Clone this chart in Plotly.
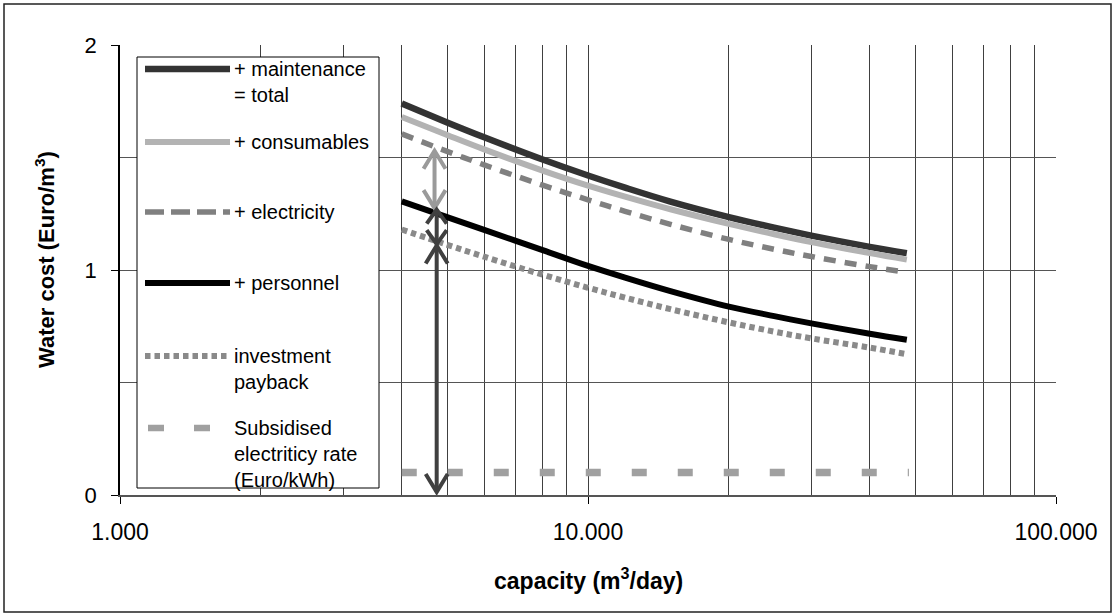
import numpy as np
import plotly.graph_objects as go

# ---------------- data ----------------
capacity = [4000, 5000, 6000, 8000, 10000, 12000, 15000, 20000, 25000, 30000, 40000, 48000]
total = [1.74, 1.656, 1.59, 1.491, 1.42, 1.366, 1.304, 1.235, 1.188, 1.153, 1.103, 1.075]
consumables = [1.68, 1.60, 1.536, 1.442, 1.375, 1.326, 1.27, 1.205, 1.159, 1.124, 1.075, 1.046]
electricity = [1.605, 1.527, 1.467, 1.377, 1.312, 1.261, 1.203, 1.136, 1.092, 1.06, 1.015, 0.99]
personnel = [1.305, 1.235, 1.178, 1.088, 1.018, 0.966, 0.906, 0.837, 0.795, 0.763, 0.717, 0.69]
investment = [1.18, 1.112, 1.059, 0.979, 0.921, 0.877, 0.826, 0.767, 0.726, 0.696, 0.655, 0.626]
subsidised_x = [4000, 48500]
subsidised = [0.1, 0.1]

x_tickvals = [1000, 10000, 100000]
x_ticktext = ["1.000", "10.000", "100.000"]
x_minor = [2000, 3000, 4000, 5000, 6000, 7000, 8000, 9000,
           20000, 30000, 40000, 50000, 60000, 70000, 80000, 90000]
y_tickvals = [0, 1, 2]
y_ticktext = ["0", "1", "2"]
y_minor = [0.5, 1.5]

# double arrows: (capacity, lower value, upper value, colour, head half-width px, head height px)
arrows = [
    (4700, 1.275, 1.53, "#9a9a9a", 11, 18),
    (4750, 1.115, 1.268, "#404040", 10, 14),
    (4750, 0.013, 1.109, "#404040", 11, 18),
]

series = [
    ("+ maintenance<br>= total", capacity, total, "#333333", 6.5, "solid"),
    ("+ consumables", capacity, consumables, "#b3b3b3", 6, "solid"),
    ("+ electricity", capacity, electricity, "#808080", 5.5, "12px,9px"),
    ("+ personnel", capacity, personnel, "#000000", 6, "solid"),
    ("investment<br>payback", capacity, investment, "#8a8a8a", 6, "5.5px,4px"),
    ("Subsidised<br>electriticy rate<br>(Euro/kWh)", subsidised_x, subsidised, "#a0a0a0", 7.5, "15px,31px"),
]

FONT = "Liberation Sans, Arial, sans-serif"
W, H = 1113, 613
ML, MR, MT, MB = 120, 57, 45, 118
PW, PH = W - ML - MR, H - MT - MB


def px(xp):
    return (xp - ML) / PW


def py(yp):
    return (H - MB - yp) / PH


fig = go.Figure()
for name, xs, ys, col, lw, dash in series:
    fig.add_trace(go.Scatter(
        x=xs, y=ys, mode="lines", name=name.replace("<br>", " "),
        line=dict(color=col, width=lw, dash=dash, shape="spline", smoothing=1.0),
        showlegend=False, hoverinfo="x+y",
    ))

shapes = []
annotations = []

# outer frame
shapes.append(dict(type="rect", xref="paper", yref="paper",
                   x0=px(4), x1=px(1111), y0=py(612), y1=py(4),
                   line=dict(color="#222222", width=1.5), layer="below"))

# legend box (drawn manually)
shapes.append(dict(type="rect", xref="paper", yref="paper",
                   x0=px(137), x1=px(379), y0=py(488), y1=py(57),
                   fillcolor="white", line=dict(color="#000000", width=1), layer="above"))

legend_y = [69, 142, 212, 283, 356, 428]
legend_dash = ["solid", "solid", "19px,7px", "solid", "5.5px,4px", "16px,30px"]
for (name, xs, ys, col, lw, dash), ly, ld in zip(series, legend_y, legend_dash):
    x0 = 145 if ld != "16px,30px" else 148
    shapes.append(dict(type="line", xref="paper", yref="paper",
                       x0=px(x0), x1=px(230), y0=py(ly), y1=py(ly),
                       line=dict(color=col, width=min(lw, 6.5), dash=ld), layer="above"))
    annotations.append(dict(xref="paper", yref="paper", x=px(232), y=py(ly - 13),
                            xanchor="left", yanchor="top", align="left", showarrow=False,
                            text=name, font=dict(family=FONT, size=20, color="#000000")))

# double arrows: shaft + chevron heads (heads in pixel units around the data anchor, +y up)
for xa, ylo, yhi, col, hw, hh in arrows:
    shapes.append(dict(type="line", xref="x", yref="y", x0=xa, x1=xa, y0=ylo, y1=yhi,
                       line=dict(color=col, width=4), layer="above"))
    shapes.append(dict(type="path", xref="x", yref="y", xsizemode="pixel", ysizemode="pixel",
                       xanchor=xa, yanchor=yhi,
                       path=f"M{-hw},{-hh} L0,0 L{hw},{-hh}",
                       line=dict(color=col, width=4), layer="above"))
    shapes.append(dict(type="path", xref="x", yref="y", xsizemode="pixel", ysizemode="pixel",
                       xanchor=xa, yanchor=ylo,
                       path=f"M{-hw},{hh} L0,0 L{hw},{hh}",
                       line=dict(color=col, width=4), layer="above"))

# axis titles
annotations.append(dict(xref="paper", yref="paper", x=0.5, y=py(579),
                        xanchor="center", yanchor="middle", showarrow=False,
                        text="<b>capacity (m<sup>3</sup>/day)</b>",
                        font=dict(family=FONT, size=23, color="#000000")))
annotations.append(dict(xref="paper", yref="paper", x=px(45), y=py(260),
                        xanchor="center", yanchor="middle", showarrow=False, textangle=-90,
                        text="<b>Water cost (Euro/m<sup>3</sup>)</b>",
                        font=dict(family=FONT, size=22, color="#000000")))

fig.update_layout(
    width=W, height=H,
    margin=dict(l=ML, r=MR, t=MT, b=MB, pad=0),
    paper_bgcolor="white", plot_bgcolor="white",
    font=dict(family=FONT, color="#000000"),
    shapes=shapes, annotations=annotations,
    showlegend=False,
)

fig.update_xaxes(
    type="log", range=[3, 5], tickmode="array", tickvals=x_tickvals, ticktext=x_ticktext,
    tickfont=dict(family=FONT, size=23, color="#000000"),
    ticks="outside", ticklen=7, tickcolor="#000000", tickwidth=1,
    showline=True, linecolor="#555555", linewidth=2,
    showgrid=True, gridcolor="#404040", gridwidth=1,
    minor=dict(tickmode="array", tickvals=x_minor, showgrid=True,
               gridcolor="#404040", gridwidth=1, ticks=""),
    zeroline=False, ticklabelstandoff=8, automargin=False,
)
fig.update_yaxes(
    range=[0, 2], tickmode="array", tickvals=y_tickvals, ticktext=y_ticktext,
    tickfont=dict(family=FONT, size=22, color="#000000"),
    ticks="outside", ticklen=7, tickcolor="#000000", tickwidth=1,
    showline=True, linecolor="#000000", linewidth=1.5,
    showgrid=True, gridcolor="#555555", gridwidth=1,
    minor=dict(tickmode="array", tickvals=y_minor, showgrid=True,
               gridcolor="#555555", gridwidth=1, ticks=""),
    zeroline=False, ticklabelstandoff=10, automargin=False,
)

fig.write_html("out.html")
